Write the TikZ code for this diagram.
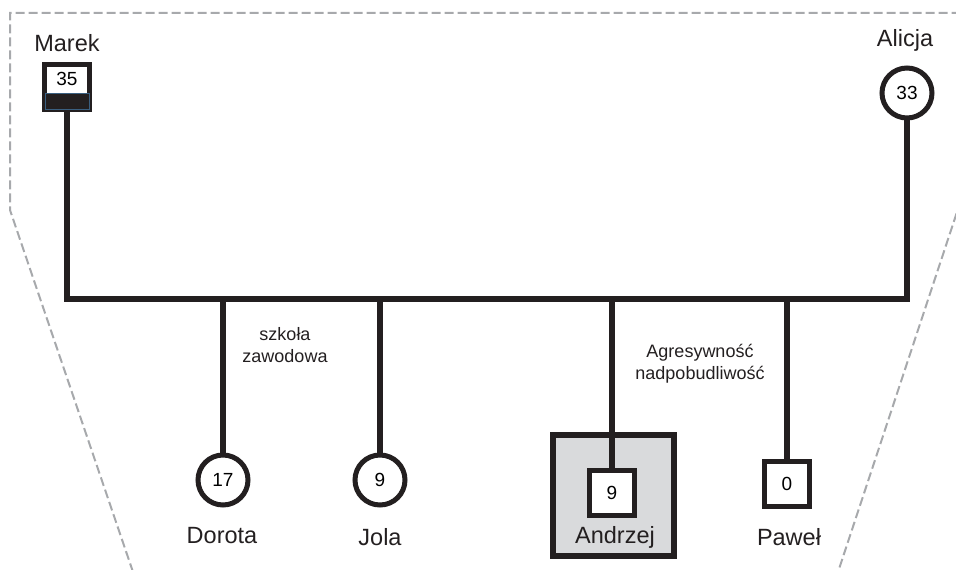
\documentclass[tikz,border=0pt]{standalone}
\usepackage{fontspec}
\setmainfont{Liberation Sans}
\begin{document}
\begin{tikzpicture}[x=1bp,y=-1bp,
  rel/.style={draw=inkc,line width=6bp},
  agefont/.style={font=\fontsize{19bp}{22bp}\selectfont},
  persq/.style={rectangle,draw=inkc,line width=5bp,fill=white,minimum size=45bp,inner sep=0pt,agefont},
  percirc/.style={circle,draw=inkc,line width=5bp,fill=white,minimum size=50bp,inner sep=0pt,agefont},
  namelab/.style={font=\fontsize{23.5bp}{28bp}\selectfont,text=inkc,inner sep=0pt},
  notelab/.style={font=\fontsize{18bp}{22bp}\selectfont,text=inkc,align=center,inner sep=0pt},
  frameline/.style={draw=bordc,line width=2bp,dash pattern=on 9bp off 4bp}]
\definecolor{inkc}{HTML}{231F20}
\definecolor{bordc}{HTML}{A7A9AC}
\definecolor{grayfill}{HTML}{D9DADC}
\definecolor{edgeblue}{HTML}{3A5F80}
\useasboundingbox (0,0) rectangle (956,570);
% dashed frame
\draw[frameline] (133,572) -- (10,210) -- (10,13) -- (959,13) -- (959,206) -- (838,572);
% persons
\node[persq] (marek) at (67,87) {};
\fill[inkc,draw=edgeblue,line width=0.6bp] (45,93) rectangle (89,109);
\node[agefont,inner sep=0pt] (marekage) at (67,79) {35};
\node[namelab] (mareklab) at (67,43) {Marek};
\node[percirc] (alicja) at (907,93) {33};
\node[namelab] (alicjalab) at (905,40) {Alicja};
\node[percirc] (dorota) at (223,480) {17};
\node[namelab] (dorotalab) at (222,536) {Dorota};
\node[percirc] (jola) at (380,480) {9};
\node[namelab] (jolalab) at (380,537) {Jola};
\node[rectangle,draw=inkc,line width=6bp,fill=grayfill,minimum size=121bp] (andrzejbox) at (613.5,495.5) {};
\node[persq] (andrzej) at (612,493) {9};
\node[namelab] (andrzejlab) at (615,537) {Andrzej};
\node[persq] (pawel) at (787,484) {0};
\node[namelab] (pawellab) at (789,537) {Paweł};
% relations
\coordinate (lj) at (67,299);
\coordinate (rj) at (907,299);
\draw[rel,line join=miter] (marek.south) -- (lj) -- (rj) -- (alicja.south);
\draw[rel] (dorota.north |- lj) -- (dorota.north);
\draw[rel] (jola.north |- lj) -- (jola.north);
\draw[rel] (andrzej.north |- lj) -- (andrzej.north);
\draw[rel] (pawel.north |- lj) -- (pawel.north);
% notes
\node[notelab] (szkola) at (285,345) {szkoła\\zawodowa};
\node[notelab] (agres) at (700,364) {Agresywność\\nadpobudliwość};
\end{tikzpicture}
\end{document}
